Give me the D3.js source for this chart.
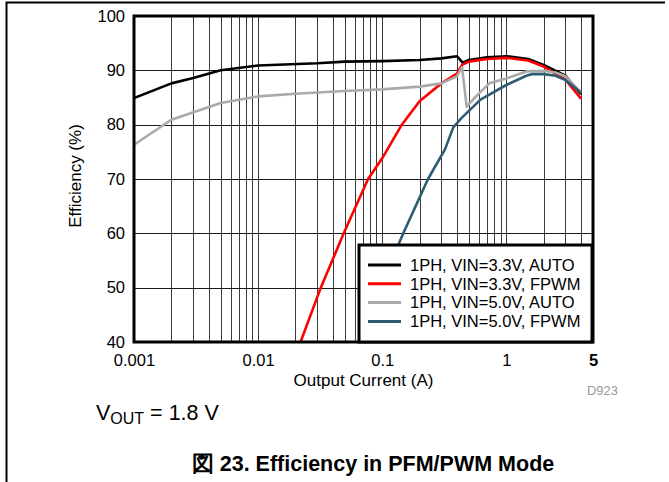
<!DOCTYPE html>
<html>
<head>
<meta charset="utf-8">
<script src="https://cdn.jsdelivr.net/npm/d3@7"></script>
<style>
  body { margin: 0; background: #fff; }
  svg { display: block; font-family: "Liberation Sans", Arial, sans-serif; }
  .axis path, .axis line { display: none; }
</style>
</head>
<body>
<svg id="chart" width="669" height="482"></svg>
<script>
// values
const seriesNames = ["1PH, VIN=3.3V, AUTO", "1PH, VIN=3.3V, FPWM", "1PH, VIN=5.0V, AUTO", "1PH, VIN=5.0V, FPWM"];
const seriesColors = ["#000000", "#ff0000", "#aaaaaa", "#2e5c74"];

const auto33X = [0.001, 0.002, 0.003, 0.005, 0.01, 0.03, 0.05, 0.1, 0.2, 0.3, 0.4, 0.445, 0.5, 0.7, 1, 1.5, 2, 3, 4];
const auto33Y = [84.9, 87.6, 88.6, 90.0, 90.9, 91.3, 91.6, 91.7, 91.9, 92.2, 92.6, 91.4, 91.9, 92.4, 92.6, 92.1, 91.0, 89.0, 85.6];

const fpwm33X = [0.022, 0.032, 0.049, 0.077, 0.1, 0.144, 0.2, 0.3, 0.4, 0.44, 0.5, 0.7, 1, 1.5, 2, 3, 4];
const fpwm33Y = [40, 50, 60, 70, 73.8, 80, 84.3, 87.6, 89.4, 91.0, 91.6, 92.1, 92.3, 91.8, 90.7, 88.3, 84.8];

const auto50X = [0.001, 0.002, 0.005, 0.01, 0.02, 0.05, 0.1, 0.2, 0.3, 0.4, 0.44, 0.48, 0.57, 0.73, 1, 1.45, 2, 2.5, 3, 4];
const auto50Y = [76.3, 80.9, 84.0, 85.2, 85.7, 86.2, 86.5, 87.0, 87.6, 88.9, 90.6, 83.3, 85.2, 87.6, 88.5, 89.8, 89.9, 89.6, 88.9, 85.9];

const fpwm50X = [0.07, 0.1, 0.135, 0.148, 0.234, 0.32, 0.374, 0.435, 0.62, 1, 1.45, 1.6, 2, 2.5, 3, 4];
const fpwm50Y = [40, 49.5, 57.9, 60, 70, 75.4, 79.5, 81.2, 84.6, 87.3, 89.0, 89.3, 89.3, 89.0, 88.2, 85.9];

const xTickValues = [0.001, 0.01, 0.1, 1, 5];
const yTickValues = [40, 50, 60, 70, 80, 90, 100];

const seriesX = [auto33X, fpwm33X, auto50X, fpwm50X];
const seriesY = [auto33Y, fpwm33Y, auto50Y, fpwm50Y];

let svg = d3.select("#chart");

// page frame
svg.append("path")
    .attr("d", "M6.5,482 V2.5 H665")
    .attr("fill", "none")
    .attr("stroke", "#000")
    .attr("stroke-width", 2);

let margin = {top: 16, left: 134},
    width = 459,
    height = 326;

let g = svg.append("g")
    .attr("transform", "translate(" + margin.left + "," + margin.top + ")");

let xScale = d3.scaleLog()
    .domain([0.001, 5])
    .range([0, width]);

let yScale = d3.scaleLinear()
    .domain([40, 100])
    .range([height, 0]);

//Grid lines
let vGrid = xScale.ticks().filter((d) => d > 0.001 && d < 5);
g.append("g").selectAll("line")
    .data(vGrid)
    .enter().append("line")
    .attr("x1", (d) => Math.round(xScale(d)) + 0.5)
    .attr("x2", (d) => Math.round(xScale(d)) + 0.5)
    .attr("y1", 0)
    .attr("y2", height)
    .attr("stroke", "#3a3a3a")
    .attr("stroke-width", 1);

g.append("g").selectAll("line")
    .data(yTickValues.slice(1, -1))
    .enter().append("line")
    .attr("x1", 0)
    .attr("x2", width)
    .attr("y1", (d) => Math.round(yScale(d)) + 0.5)
    .attr("y2", (d) => Math.round(yScale(d)) + 0.5)
    .attr("stroke", "#1a1a1a")
    .attr("stroke-width", 1);

//Curves
let clip = svg.append("defs").append("clipPath").attr("id", "plotClip");
clip.append("rect").attr("width", width).attr("height", height);

let line = d3.line()
    .x((d) => xScale(d[0]))
    .y((d) => yScale(d[1]));

let curves = g.append("g").attr("clip-path", "url(#plotClip)");
seriesX.forEach((xs, i) => {
    let pts = xs.map((x, j) => [x, seriesY[i][j]]);
    curves.append("path")
        .datum(pts)
        .attr("d", line)
        .attr("fill", "none")
        .attr("stroke", seriesColors[i])
        .attr("stroke-width", 2.6)
        .attr("stroke-linejoin", "round");
});

//Plot border
g.append("rect")
    .attr("width", width)
    .attr("height", height)
    .attr("fill", "none")
    .attr("stroke", "#000")
    .attr("stroke-width", 3);

//Axes
let xAxis = g.append("g")
    .attr("class", "axis")
    .attr("transform", "translate(0," + height + ")")
    .call(d3.axisBottom(xScale)
        .tickValues(xTickValues)
        .tickSize(0)
        .tickPadding(12)
        .tickFormat((d) => d3.format("~g")(d)));

xAxis.selectAll("text")
    .attr("fill", "#000")
    .style("font-size", "16.5px")
    .style("font-weight", (d) => d === 5 ? "bold" : "normal");

let yAxis = g.append("g")
    .attr("class", "axis")
    .call(d3.axisLeft(yScale)
        .tickValues(yTickValues)
        .tickSize(0)
        .tickPadding(9));

yAxis.selectAll("text")
    .attr("fill", "#000")
    .style("font-size", "16.5px");

//Axis labels
g.append("text")
    .attr("x", width / 2)
    .attr("y", height + 44)
    .attr("text-anchor", "middle")
    .style("font-size", "17px")
    .text("Output Current (A)");

g.append("text")
    .attr("transform", "rotate(-90)")
    .attr("x", -height / 2 + 3)
    .attr("y", -53)
    .attr("text-anchor", "middle")
    .style("font-size", "17px")
    .text("Efficiency (%)");

svg.append("text")
    .attr("x", 618)
    .attr("y", 395)
    .attr("text-anchor", "end")
    .attr("fill", "#999")
    .style("font-size", "13px")
    .text("D923");

//Legend
let legend = g.append("g")
    .attr("transform", "translate(" + (359 - margin.left) + "," + (245 - margin.top) + ")");

legend.append("rect")
    .attr("width", 233)
    .attr("height", 97)
    .attr("fill", "#fff")
    .attr("stroke", "#000")
    .attr("stroke-width", 3);

let rows = legend.selectAll("g.row")
    .data(seriesNames)
    .enter().append("g")
    .attr("class", "row")
    .attr("transform", (d, i) => "translate(0," + (20 + i * 18.8) + ")");

rows.append("line")
    .attr("x1", 9)
    .attr("x2", 42)
    .attr("stroke", (d, i) => seriesColors[i])
    .attr("stroke-width", 3);

rows.append("text")
    .attr("x", 51)
    .attr("dy", "0.35em")
    .style("font-size", "16.5px")
    .text((d) => d);

//Notes under the chart
let vout = svg.append("text")
    .attr("x", 96)
    .attr("y", 420)
    .style("font-size", "21.5px");
vout.append("tspan").text("V");
vout.append("tspan").attr("dy", 4).style("font-size", "16px").text("OUT");
vout.append("tspan").attr("dy", -4).text(" = 1.8 V");

svg.append("text")
    .attr("x", 373)
    .attr("y", 471)
    .attr("text-anchor", "middle")
    .style("font-size", "21.5px")
    .style("font-weight", "bold")
    .text("図 23. Efficiency in PFM/PWM Mode");
</script>
</body>
</html>
